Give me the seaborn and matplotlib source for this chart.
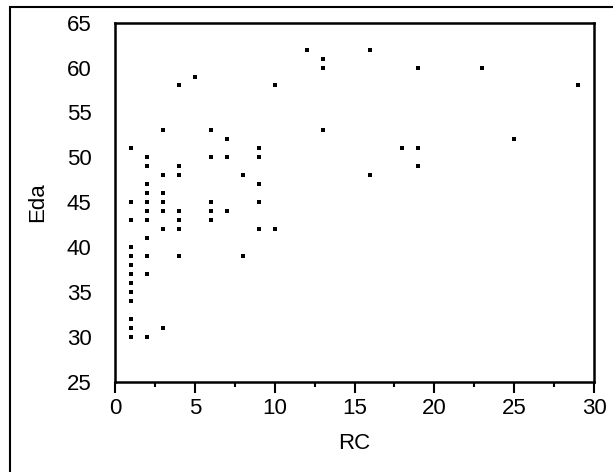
import matplotlib
matplotlib.use("Agg")
import matplotlib.pyplot as plt
import seaborn as sns
import pandas as pd
from matplotlib.patches import Rectangle
from matplotlib.ticker import MultipleLocator

# Observations: RC (x) and Eda (y)
rc = (
    [1] * 13
    + [2] * 11
    + [3] * 7
    + [4] * 7
    + [5]
    + [6] * 5
    + [7] * 3
    + [8] * 2
    + [9] * 5
    + [10] * 2
    + [12]
    + [13] * 3
    + [16] * 2
    + [18]
    + [19] * 3
    + [23]
    + [25]
    + [29]
)
eda = (
    [51, 45, 43, 40, 39, 38, 37, 36, 35, 34, 32, 31, 30]
    + [50, 49, 47, 46, 45, 44, 43, 41, 39, 37, 30]
    + [53, 48, 46, 45, 44, 42, 31]
    + [58, 49, 48, 44, 43, 42, 39]
    + [59]
    + [53, 50, 45, 44, 43]
    + [52, 50, 44]
    + [48, 39]
    + [51, 50, 47, 45, 42]
    + [58, 42]
    + [62]
    + [61, 60, 53]
    + [62, 48]
    + [51]
    + [60, 51, 49]
    + [60]
    + [52]
    + [58]
)

x_ticks = [0, 5, 10, 15, 20, 25, 30]
y_ticks = [25, 30, 35, 40, 45, 50, 55, 60, 65]

df = pd.DataFrame({"RC": rc, "Eda": eda})

sns.set_style("white")
plt.rcParams["font.family"] = ["Liberation Sans", "DejaVu Sans"]
plt.rcParams["axes.labelcolor"] = "black"

fig = plt.figure(figsize=(6.13, 4.72), dpi=100)
ax = fig.add_axes([115 / 613, 1 - 381.5 / 472, (594 - 115) / 613, (381.5 - 22.7) / 472])

sns.scatterplot(data=df, x="RC", y="Eda", marker="s", s=9, color="black",
                linewidth=0, ax=ax)

ax.set_xlim(0, 30)
ax.set_ylim(25, 65)
ax.set_xticks(x_ticks)
ax.set_yticks(y_ticks)
ax.xaxis.set_minor_locator(MultipleLocator(2.5))

for side in ["left", "bottom", "top", "right"]:
    ax.spines[side].set_visible(True)
    ax.spines[side].set_color("black")
    ax.spines[side].set_linewidth(1.8)

ax.tick_params(axis="both", which="major", direction="out", length=8,
               width=1.5, color="black", labelsize=16, labelcolor="black")
ax.tick_params(axis="y", which="major", pad=9)
ax.tick_params(axis="x", which="major", pad=4, bottom=True)
ax.tick_params(axis="x", which="minor", direction="out", length=3.5,
               width=1.5, color="black", bottom=True)
ax.tick_params(axis="y", which="minor", left=False)

ax.set_xlabel("RC", fontsize=16, labelpad=10, color="black")
ax.set_ylabel("Eda", fontsize=16, labelpad=13, color="black")

# Outer frame around the figure
fig.patches.append(Rectangle((9.5 / 613, -0.1), 1.2, 1 - 7 / 472 + 0.1,
                             transform=fig.transFigure, fill=False,
                             edgecolor="black", linewidth=1.5))

fig.savefig("out.png", dpi=100)
